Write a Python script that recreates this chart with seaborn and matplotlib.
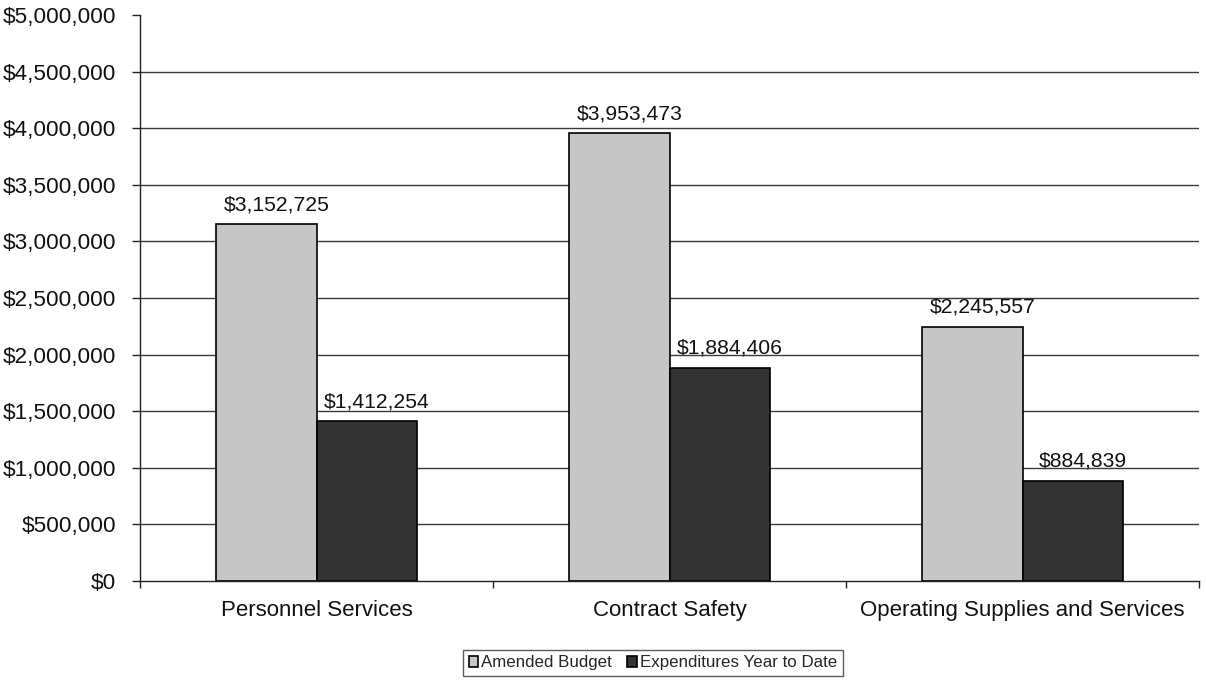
import matplotlib
matplotlib.use("Agg")
import matplotlib.pyplot as plt
from matplotlib.ticker import FuncFormatter, FixedLocator, MultipleLocator
from matplotlib.patches import Patch
import seaborn as sns
import pandas as pd

categories = ["Personnel Services", "Contract Safety", "Operating Supplies and Services"]
series_names = ["Amended Budget", "Expenditures Year to Date"]
amended_budget = [3152725, 3953473, 2245557]
expenditures_ytd = [1412254, 1884406, 884839]

colors = ["#c6c6c6", "#333333"]

df = pd.DataFrame({
    "category": categories * 2,
    "series": [series_names[0]] * 3 + [series_names[1]] * 3,
    "amount": amended_budget + expenditures_ytd,
})

sns.set_theme(style="white")
plt.rcParams["font.family"] = ["Liberation Sans", "DejaVu Sans"]

fig = plt.figure(figsize=(12.06, 6.82), dpi=100)
ax = fig.add_axes([140 / 1206, 1 - 581 / 682, 1059 / 1206, 566 / 682])

sns.barplot(
    data=df, x="category", y="amount", hue="series",
    palette=colors, edgecolor="black", linewidth=1.2,
    width=0.567, gap=0, ax=ax, legend=False, errorbar=None,
    saturation=1,
)

ax.set_ylim(0, 5000000)
ax.set_xlim(-0.5, 2.5)
ax.yaxis.set_major_locator(MultipleLocator(500000))
ax.yaxis.set_major_formatter(FuncFormatter(lambda v, p: f"${v:,.0f}"))
ax.set_xlabel("")
ax.set_ylabel("")

# horizontal gridlines (no line at the top of the range)
for v in range(500000, 5000000, 500000):
    ax.axhline(v, color="#3a3a3a", linewidth=1.0, zorder=0)

for side in ["top", "right"]:
    ax.spines[side].set_visible(False)
for side in ["left", "bottom"]:
    ax.spines[side].set_color("#222222")
    ax.spines[side].set_linewidth(1.0)

ax.tick_params(axis="y", which="major", length=6, width=1, color="#222222",
               direction="out", left=True, pad=11, labelsize=16.2, labelcolor="#111111")
ax.tick_params(axis="x", which="major", length=0, pad=14, labelsize=16, labelcolor="#111111")
ax.xaxis.set_minor_locator(FixedLocator([-0.5, 0.5, 1.5, 2.5]))
ax.tick_params(axis="x", which="minor", length=5, width=1, color="#222222",
               direction="out", bottom=True)

# value labels above each bar
for container in ax.containers:
    for bar in container:
        h = bar.get_height()
        ax.annotate(
            f"${h:,.0f}",
            xy=(bar.get_x() + bar.get_width() / 2, h),
            xytext=(10, 10), textcoords="offset pixels",
            ha="center", va="bottom", fontsize=15.2, color="#111111",
        )

handles = [Patch(facecolor=c, edgecolor="black", linewidth=1.2) for c in colors]
leg = fig.legend(
    handles, series_names, loc="center",
    bbox_to_anchor=(653 / 1206, 1 - 663 / 682),
    ncol=2, frameon=True, fancybox=False, shadow=False,
    fontsize=12.2, handlelength=0.55, handleheight=0.55, handletextpad=0.2,
    columnspacing=0.9, borderpad=0.35, borderaxespad=0,
)
leg.get_frame().set_edgecolor("#333333")
leg.get_frame().set_linewidth(1.0)

fig.savefig("out.png", dpi=100, facecolor="white")
